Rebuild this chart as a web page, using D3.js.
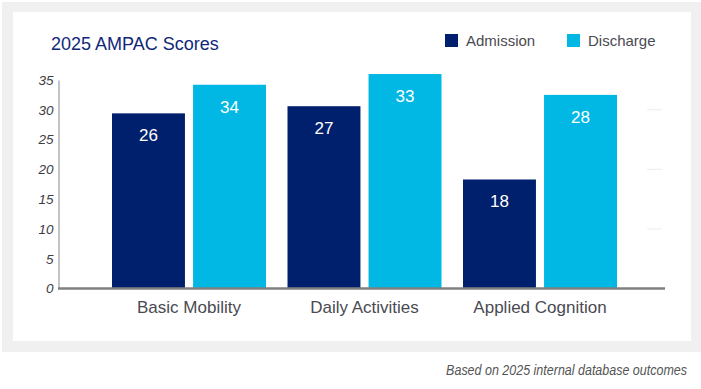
<!DOCTYPE html>
<html>
<head>
<meta charset="utf-8">
<script src="https://cdn.jsdelivr.net/npm/d3@7"></script>
<style>
  body { margin: 0; background: #fff; }
  svg { display: block; font-family: "Liberation Sans", Arial, sans-serif; }
</style>
</head>
<body>
<svg id="chart" width="701" height="389"></svg>
<script>
// data (bar heights as drawn, labels as printed)
var categories = ["Basic Mobility", "Daily Activities", "Applied Cognition"];
var seriesNames = ["Admission", "Discharge"];
var admission = [29.4, 30.6, 18.3];
var discharge = [34.2, 36.0, 32.5];
var admissionLabels = ["26", "27", "18"];
var dischargeLabels = ["34", "33", "28"];
var yTicks = [0, 5, 10, 15, 20, 25, 30, 35];
var gridTicks = [10, 20, 30];

var colors = { Admission: "#001f6c", Discharge: "#00b8e3" };

var svg = d3.select("#chart");

// outer gray frame and white card
svg.append("rect").attr("x", 2).attr("y", 2).attr("width", 699).attr("height", 350).attr("fill", "#f0f0f0");
svg.append("rect").attr("x", 13).attr("y", 12).attr("width", 678).attr("height", 329).attr("fill", "#ffffff");

var y = d3.scaleLinear().domain([0, 35]).range([288.5, 80]);

var x0 = d3.scaleBand()
    .domain(categories)
    .range([112, 617])
    .paddingInner(0.1225)
    .paddingOuter(0);

var x1 = d3.scaleBand()
    .domain(seriesNames)
    .range([0, x0.bandwidth()])
    .paddingInner(0.1);

var color = d3.scaleOrdinal().domain(seriesNames).range([colors.Admission, colors.Discharge]);

var rows = categories.map(function(c, i) {
    return {
        cat: c,
        bars: [
            { key: "Admission", value: admission[i], label: admissionLabels[i] },
            { key: "Discharge", value: discharge[i], label: dischargeLabels[i] }
        ]
    };
});

// short grid stubs at the right
svg.append("g").selectAll("line")
    .data(gridTicks)
    .enter().append("line")
    .attr("x1", 647).attr("x2", 662)
    .attr("y1", function(d) { return y(d); })
    .attr("y2", function(d) { return y(d); })
    .attr("stroke", "#ececec")
    .attr("stroke-width", 1);

// y axis
var yAxis = svg.append("g")
    .attr("transform", "translate(58.5,0)")
    .call(d3.axisLeft(y).tickValues(yTicks).tickSize(0).tickPadding(5));
yAxis.select(".domain").attr("stroke", "#8a8a8a").attr("stroke-width", 1);
yAxis.selectAll("text")
    .attr("font-family", "'Liberation Sans', Arial, sans-serif")
    .attr("font-style", "italic")
    .attr("font-size", 13.5)
    .attr("fill", "#3c3c44");

// bars
var groups = svg.append("g").selectAll("g")
    .data(rows)
    .enter().append("g")
    .attr("transform", function(d) { return "translate(" + x0(d.cat) + ",0)"; });

groups.selectAll("rect")
    .data(function(d) { return d.bars; })
    .enter().append("rect")
    .attr("x", function(d) { return x1(d.key); })
    .attr("y", function(d) { return y(d.value); })
    .attr("width", x1.bandwidth())
    .attr("height", function(d) { return y(0) - y(d.value); })
    .attr("fill", function(d) { return color(d.key); });

groups.selectAll("text.val")
    .data(function(d) { return d.bars; })
    .enter().append("text")
    .attr("class", "val")
    .attr("x", function(d) { return x1(d.key) + x1.bandwidth() / 2; })
    .attr("y", function(d) { return y(d.value) + 28; })
    .attr("text-anchor", "middle")
    .attr("font-size", 17)
    .attr("fill", "#ffffff")
    .text(function(d) { return d.label; });

// baseline
svg.append("line")
    .attr("x1", 58).attr("x2", 665)
    .attr("y1", y(0)).attr("y2", y(0))
    .attr("stroke", "#808080")
    .attr("stroke-width", 2.5);

// category labels
svg.append("g").selectAll("text")
    .data(categories)
    .enter().append("text")
    .attr("x", function(d) { return x0(d) + x0.bandwidth() / 2; })
    .attr("y", 313)
    .attr("text-anchor", "middle")
    .attr("font-size", 17)
    .attr("fill", "#4a4a52")
    .text(function(d) { return d; });

// title
svg.append("text")
    .attr("x", 51)
    .attr("y", 49.5)
    .attr("font-size", 18)
    .attr("fill", "#0f2878")
    .text("2025 AMPAC Scores");

// legend
var legendX = d3.scalePoint().domain(seriesNames).range([445, 567]);
var legend = svg.append("g").selectAll("g")
    .data(seriesNames)
    .enter().append("g")
    .attr("transform", function(d) { return "translate(" + legendX(d) + ",34)"; });
legend.append("rect")
    .attr("width", 13).attr("height", 13)
    .attr("fill", function(d) { return color(d); });
legend.append("text")
    .attr("x", 21)
    .attr("y", 12)
    .attr("font-size", 15)
    .attr("fill", "#4a4a52")
    .text(function(d) { return d; });

// footnote: condensed look by squeezing a regular italic face horizontally
var footG = svg.append("g");
var foot = footG.append("text")
    .attr("x", 0)
    .attr("y", 0)
    .attr("text-anchor", "end")
    .attr("font-style", "italic")
    .attr("font-size", 15)
    .attr("fill", "#555555")
    .text("Based on 2025 internal database outcomes");
var footLen = foot.node().getComputedTextLength();
var squeeze = Math.min(1, 241 / footLen);
footG.attr("transform", "translate(687,375) scale(" + squeeze + ",1)");
</script>
</body>
</html>
